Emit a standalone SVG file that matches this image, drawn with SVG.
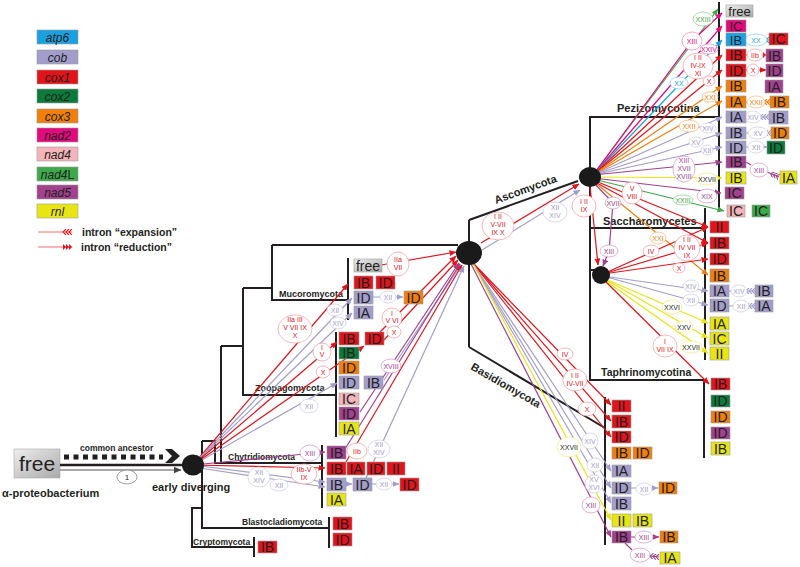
<svg xmlns="http://www.w3.org/2000/svg" width="800" height="567" viewBox="0 0 800 567">
<style>
.tl{fill:none;stroke:#231f20;stroke-width:2}
.bx{stroke:#9a9a9a;stroke-width:.6}
.bt{font-family:"Liberation Sans",Arial,sans-serif;font-size:14px;fill:#231f20;text-anchor:middle}
.sm{font-size:13px}
.lg{font-family:"Liberation Sans",Arial,sans-serif;font-size:12px;font-style:italic;fill:#231f20;text-anchor:middle}
.cl{font-family:"Liberation Sans",Arial,sans-serif;font-weight:bold;fill:#231f20}
.ct{font-family:"Liberation Sans",Arial,sans-serif;font-size:7px;text-anchor:middle}
.atp{fill:#1ba1e2}.cob{fill:#a29dcb}.c1{fill:#e2141b}.c2{fill:#0b7a3a}.c3{fill:#f07f0b}
.n2{fill:#e4097d}.n4{fill:#f4b4ba}.n4l{fill:#3ea94a}.n5{fill:#a2418e}.rnl{fill:#e8e512}.fr{fill:url(#gfree)}
.l{fill:none;stroke-width:1.2}
.lR{stroke:#e2141b}.lC{stroke:#a29dcb}.lP{stroke:#a2418e}.lO{stroke:#f07f0b}.lY{stroke:#e8e512}
.lG{stroke:#3ea94a}.lM{stroke:#e4097d}.lA{stroke:#1ba1e2}
.ci{fill:#fff;stroke-width:.7}
.kR{stroke:#f29a9a}.kC{stroke:#cbc8e4}.kP{stroke:#cf93c3}.kO{stroke:#f8b672}.kY{stroke:#efeb7a}
.kG{stroke:#86c98a}.kM{stroke:#f284bd}.kA{stroke:#7fcff2}.kK{stroke:#777}
.tR{fill:#e2141b}.tC{fill:#a29dcb}.tP{fill:#a2418e}.tO{fill:#f07f0b}.tK{fill:#231f20}
.tG{fill:#3ea94a}.tM{fill:#e4097d}.tA{fill:#1ba1e2}
</style>
<defs>
<linearGradient id="gfree" x1="0" y1="0" x2="1" y2="1"><stop offset="0" stop-color="#eeeeee"/><stop offset="1" stop-color="#a9a9a9"/></linearGradient>
<marker id="aR" markerWidth="7" markerHeight="6" refX="6.5" refY="3" orient="auto" markerUnits="userSpaceOnUse"><path d="M0,0L7,3L0,6z" fill="#e2141b"/></marker>
<marker id="aC" markerWidth="7" markerHeight="6" refX="6.5" refY="3" orient="auto" markerUnits="userSpaceOnUse"><path d="M0,0L7,3L0,6z" fill="#a29dcb"/></marker>
<marker id="aP" markerWidth="7" markerHeight="6" refX="6.5" refY="3" orient="auto" markerUnits="userSpaceOnUse"><path d="M0,0L7,3L0,6z" fill="#a2418e"/></marker>
<marker id="aO" markerWidth="7" markerHeight="6" refX="6.5" refY="3" orient="auto" markerUnits="userSpaceOnUse"><path d="M0,0L7,3L0,6z" fill="#f07f0b"/></marker>
<marker id="aY" markerWidth="7" markerHeight="6" refX="6.5" refY="3" orient="auto" markerUnits="userSpaceOnUse"><path d="M0,0L7,3L0,6z" fill="#e8e512"/></marker>
<marker id="aG" markerWidth="7" markerHeight="6" refX="6.5" refY="3" orient="auto" markerUnits="userSpaceOnUse"><path d="M0,0L7,3L0,6z" fill="#3ea94a"/></marker>
<marker id="aM" markerWidth="7" markerHeight="6" refX="6.5" refY="3" orient="auto" markerUnits="userSpaceOnUse"><path d="M0,0L7,3L0,6z" fill="#e4097d"/></marker>
<marker id="aA" markerWidth="7" markerHeight="6" refX="6.5" refY="3" orient="auto" markerUnits="userSpaceOnUse"><path d="M0,0L7,3L0,6z" fill="#1ba1e2"/></marker>
<marker id="aK" markerWidth="8" markerHeight="7" refX="7.5" refY="3.5" orient="auto" markerUnits="userSpaceOnUse"><path d="M0,0L8,3.5L0,7z" fill="#444"/></marker>
<marker id="eR" markerWidth="10" markerHeight="6" refX="10" refY="3" orient="auto" markerUnits="userSpaceOnUse"><path d="M4,0L1,3L4,6M7,0L4,3L7,6M10,0L7,3L10,6" fill="none" stroke="#e2141b" stroke-width="1.1"/></marker>
<marker id="eA" markerWidth="10" markerHeight="6" refX="10" refY="3" orient="auto" markerUnits="userSpaceOnUse"><path d="M4,0L1,3L4,6M7,0L4,3L7,6M10,0L7,3L10,6" fill="none" stroke="#1ba1e2" stroke-width="1.1"/></marker>
<marker id="eO" markerWidth="10" markerHeight="6" refX="10" refY="3" orient="auto" markerUnits="userSpaceOnUse"><path d="M4,0L1,3L4,6M7,0L4,3L7,6M10,0L7,3L10,6" fill="none" stroke="#f07f0b" stroke-width="1.1"/></marker>
<marker id="eC" markerWidth="10" markerHeight="6" refX="10" refY="3" orient="auto" markerUnits="userSpaceOnUse"><path d="M4,0L1,3L4,6M7,0L4,3L7,6M10,0L7,3L10,6" fill="none" stroke="#a29dcb" stroke-width="1.1"/></marker>
<marker id="eP" markerWidth="10" markerHeight="6" refX="10" refY="3" orient="auto" markerUnits="userSpaceOnUse"><path d="M4,0L1,3L4,6M7,0L4,3L7,6M10,0L7,3L10,6" fill="none" stroke="#a2418e" stroke-width="1.1"/></marker>
<marker id="dR" markerWidth="9" markerHeight="6" refX="9" refY="3" orient="auto" markerUnits="userSpaceOnUse"><path d="M0,0L3,3L0,6zM3,0L6,3L3,6zM6,0L9,3L6,6z" fill="#e2141b"/></marker>
</defs>
<rect width="800" height="567" fill="#fff"/>

<g id="legend">
<rect class="bx atp" x="37" y="30" width="41" height="14"/><text class="lg" x="57.5" y="41.5">atp6</text>
<rect class="bx cob" x="37" y="50" width="41" height="14"/><text class="lg" x="57.5" y="61.5">cob</text>
<rect class="bx c1" x="37" y="70" width="41" height="14"/><text class="lg" x="57.5" y="81.5">cox1</text>
<rect class="bx c2" x="37" y="89" width="41" height="14"/><text class="lg" x="57.5" y="100.5">cox2</text>
<rect class="bx c3" x="37" y="109" width="41" height="14"/><text class="lg" x="57.5" y="120.5">cox3</text>
<rect class="bx n2" x="37" y="128" width="41" height="14"/><text class="lg" x="57.5" y="139.5">nad2</text>
<rect class="bx n4" x="37" y="147" width="41" height="14"/><text class="lg" x="57.5" y="158.5">nad4</text>
<rect class="bx n4l" x="37" y="167" width="41" height="14"/><text class="lg" x="57.5" y="178.5">nad4<tspan font-style="normal">L</tspan></text>
<rect class="bx n5" x="37" y="185" width="41" height="14"/><text class="lg" x="57.5" y="196.5">nad5</text>
<rect class="bx rnl" x="37" y="204" width="41" height="14"/><text class="lg" x="57.5" y="215.5">rnl</text>
<path d="M38,232H72" stroke="#f26f6f" stroke-width="1" marker-end="url(#eR)"/>
<path d="M38,247H72" stroke="#f26f6f" stroke-width="1" marker-end="url(#dR)"/>
<text class="cl" x="82" y="236" font-size="10.5">intron “expansion”</text>
<text class="cl" x="81" y="251" font-size="10.5">intron “reduction”</text>
</g>

<g id="ancestor">
<rect x="14" y="449" width="46" height="29" fill="url(#gfree)" stroke="#aaa" stroke-width=".6"/>
<text x="37" y="471" font-family="Liberation Sans,Arial,sans-serif" font-size="21" fill="#231f20" text-anchor="middle">free</text>
<text class="cl" x="2" y="497" font-size="11">α-proteobacterium</text>
<path d="M64,457H163" stroke="#231f20" stroke-width="5" stroke-dasharray="5,4.5"/>
<path d="M165,449H172L180,456L172,463H165L172,456z" fill="#231f20"/>
<text class="cl" x="80" y="451" font-size="8.5">common ancestor</text>
<path d="M60,465H184" stroke="#231f20" stroke-width="2.5"/>
<path d="M60,470H181" stroke="#555" stroke-width="1.2" marker-end="url(#aK)"/>
<ellipse cx="127" cy="477" rx="10" ry="7" fill="#fff" stroke="#777" stroke-width=".7"/>
<text x="127" y="480" font-family="Liberation Sans,Arial,sans-serif" font-size="8" text-anchor="middle" fill="#231f20">1</text>
</g>

<g id="tree">
<path class="tl" d="M221,346H243M243,288V395H336M243,288H272M272,245V300H348M272,245H458M202,441H215V463H322M221,346V463M202,441V528H329M202,508H192V547H254"/>
<path class="tl" d="M469,220V347M469,220L578,181M469,347L605,428M589,117H719M590,117V380H704M590,228H705M590,270H600"/>
<path class="tl" d="M348,258V320M336,332V437M322,445V508M329,517V548M254,537V557M719,2V212M705,208V360M704,379V458M605,397V545"/>
<text class="cl" x="279" y="297" font-size="9">Mucoromycota</text>
<text class="cl" x="255" y="391" font-size="9">Zoopagomycota</text>
<text class="cl" x="228" y="460" font-size="8.5">Chytridiomycota</text>
<text class="cl" x="242" y="525" font-size="8.5">Blastocladiomycota</text>
<text class="cl" x="193" y="545" font-size="8.5">Cryptomycota</text>
<text class="cl" font-size="11" transform="translate(496,204) rotate(-20)">Ascomycota</text>
<text class="cl" font-size="11" transform="translate(470,369) rotate(30)">Basidiomycota</text>
<text class="cl" x="617" y="112" font-size="11">Pezizomycotina</text>
<text class="cl" x="603" y="225" font-size="11">Saccharomycetes</text>
<text class="cl" x="601" y="376" font-size="10.5">Taphrinomycotina</text>
<text class="cl" x="152" y="491" font-size="11">early diverging</text>
</g>

<g id="connectors">
<path class="l lR" d="M193,465L348,284" marker-end="url(#aR)"/>
<path class="l lC" d="M193,465L352,298" marker-end="url(#aC)"/>
<path class="l lC" d="M193,465L352,313" marker-end="url(#aC)"/>
<path class="l lR" d="M193,465L337,342" marker-end="url(#aR)"/>
<path class="l lR" d="M193,465L364,346" marker-end="url(#aR)"/>
<path class="l lC" d="M193,465L337,383" marker-end="url(#aC)"/>
<path class="l lP" d="M193,465L325,452" marker-end="url(#aP)"/>
<path class="l lR" d="M193,465L325,468" marker-end="url(#aR)"/>
<path class="l lC" d="M193,465L325,482" marker-end="url(#aC)"/>
<path class="l lC" d="M193,467L325,487" marker-end="url(#aC)"/>
<path class="l lR" d="M381,265L456,252" marker-end="url(#aR)"/>
<path class="l lR" d="M380,332L456,256" marker-end="url(#aR)"/>
<path class="l lR" d="M384,340L458,260" marker-end="url(#aR)"/>
<path class="l lP" d="M360,412L459,263" marker-end="url(#aP)"/>
<path class="l lC" d="M384,380L461,265" marker-end="url(#aC)"/>
<path class="l lP" d="M345,449L460,264" marker-end="url(#aP)"/>
<path class="l lR" d="M346,462L462,265" marker-end="url(#aR)"/>
<path class="l lC" d="M366,478L464,266" marker-end="url(#aC)"/>
<path class="l lC" d="M373,297H380M396,297H403" marker-end="url(#aC)"/>
<path class="l lC" d="M346,484H352" marker-end="url(#aC)"/>
<path class="l lC" d="M372,484H376M392,484H399" marker-end="url(#aC)"/>
<path class="l lR" d="M481,243L579,184" marker-end="url(#aR)"/>
<path class="l lC" d="M482,250L580,190" marker-end="url(#aC)"/>
<path class="l lR" d="M472,262L611,405" marker-end="url(#aR)"/>
<path class="l lR" d="M472,262L611,421" marker-end="url(#aR)"/>
<path class="l lR" d="M472,262L611,437" marker-end="url(#aR)"/>
<path class="l lC" d="M472,262L611,471" marker-end="url(#aC)"/>
<path class="l lC" d="M472,262L611,488" marker-end="url(#aC)"/>
<path class="l lC" d="M472,262L611,503" marker-end="url(#aC)"/>
<path class="l lY" d="M472,262L611,520" marker-end="url(#aY)"/>
<path class="l lP" d="M470,262L611,537" marker-end="url(#aP)"/>
<path class="l lC" d="M631,488H636M652,488H658" marker-end="url(#aC)"/>
<path class="l lP" d="M631,537H635M653,537H659" marker-end="url(#aP)"/>
<path class="l lP" d="M625,543L632,550M650,556L659,557" marker-end="url(#eP)"/>
<path class="l lG" d="M593,175L718,9" marker-end="url(#aG)"/>
<path class="l lM" d="M593,175L692,41L722,13" marker-end="url(#aM)"/>
<path class="l lM" d="M593,175L722,26" marker-end="url(#aM)"/>
<path class="l lA" d="M593,175L722,40" marker-end="url(#aA)"/>
<path class="l lR" d="M593,175L722,55" marker-end="url(#aR)"/>
<path class="l lR" d="M593,175L722,70" marker-end="url(#aR)"/>
<path class="l lO" d="M593,175L722,86" marker-end="url(#aO)"/>
<path class="l lO" d="M593,175L722,101" marker-end="url(#aO)"/>
<path class="l lC" d="M593,175L722,117" marker-end="url(#aC)"/>
<path class="l lC" d="M593,175L722,133" marker-end="url(#aC)"/>
<path class="l lC" d="M593,175L722,147" marker-end="url(#aC)"/>
<path class="l lP" d="M593,175L722,162" marker-end="url(#aP)"/>
<path class="l lY" d="M593,177L722,178" marker-end="url(#aY)"/>
<path class="l lP" d="M593,178L721,193" marker-end="url(#aP)"/>
<path class="l lG" d="M593,179L724,211" marker-end="url(#aG)"/>
<path class="l lR" d="M593,180L708,227" marker-end="url(#aR)"/>
<path class="l lR" d="M593,181L708,243" marker-end="url(#aR)"/>
<path class="l lO" d="M593,181L708,275" marker-end="url(#aO)"/>
<path class="l lR" d="M590,186L598,265" marker-end="url(#aR)"/>
<path class="l lP" d="M595,184L613,203L609,251L603,266" marker-end="url(#aP)"/>
<path class="l lA" d="M746,40H745M767,40H769" marker-end="url(#eA)"/>
<path class="l lR" d="M746,55H747M763,55H766" marker-end="url(#dR)"/>
<path class="l lR" d="M746,70H747M759,70H766" marker-end="url(#aR)"/>
<path class="l lO" d="M746,102H747M765,102H770" marker-end="url(#eO)"/>
<path class="l lC" d="M746,117H745M761,117H769" marker-end="url(#eC)"/>
<path class="l lC" d="M746,133H748M768,133H771" marker-end="url(#eC)"/>
<path class="l lC" d="M746,147H748M764,147H767" marker-end="url(#aC)"/>
<path class="l lP" d="M746,162L751,165M767,172L779,177" marker-end="url(#eP)"/>
<path class="l lR" d="M603,274L708,227" marker-end="url(#aR)"/>
<path class="l lR" d="M603,274L708,243" marker-end="url(#aR)"/>
<path class="l lR" d="M603,274L708,259" marker-end="url(#aR)"/>
<path class="l lC" d="M603,276L708,291" marker-end="url(#aC)"/>
<path class="l lC" d="M603,276L708,305" marker-end="url(#aC)"/>
<path class="l lY" d="M603,278L708,323" marker-end="url(#aY)"/>
<path class="l lY" d="M603,278L708,338" marker-end="url(#aY)"/>
<path class="l lY" d="M603,279L708,353" marker-end="url(#aY)"/>
<path class="l lR" d="M603,279L709,384" marker-end="url(#aR)"/>
<path class="l lC" d="M729,291H731M747,291H755" marker-end="url(#eC)"/>
<path class="l lC" d="M729,306H733M749,306H755" marker-end="url(#eC)"/>
</g>

<g id="intron-labels">
<ellipse class="ci kR" cx="398" cy="264" rx="11" ry="12"/><text class="ct tR" x="398" y="262">IIa</text><text class="ct tR" x="398" y="270">VII</text>
<ellipse class="ci kC" cx="388" cy="297" rx="8" ry="6"/><text class="ct tC" x="388" y="299.5">XII</text>
<ellipse class="ci kR" cx="295" cy="329" rx="17" ry="14"/><text class="ct tR" x="295" y="322">IIa III</text><text class="ct tR" x="295" y="330">V VII IX</text><text class="ct tR" x="295" y="338">X</text>
<ellipse class="ci kC" cx="335" cy="310" rx="8" ry="6"/><text class="ct tC" x="335" y="312.5">XII</text>
<ellipse class="ci kC" cx="338" cy="323" rx="8" ry="6"/><text class="ct tC" x="338" y="325.5">XIV</text>
<ellipse class="ci kR" cx="322" cy="352" rx="9" ry="9"/><text class="ct tR" x="322" y="350">I</text><text class="ct tR" x="322" y="357">V</text>
<ellipse class="ci kR" cx="323" cy="372" rx="7" ry="6"/><text class="ct tR" x="323" y="374.5">X</text>
<ellipse class="ci kR" cx="392" cy="318" rx="10" ry="10"/><text class="ct tR" x="392" y="316">I</text><text class="ct tR" x="392" y="323">V VI</text>
<ellipse class="ci kR" cx="394" cy="332" rx="7" ry="6"/><text class="ct tR" x="394" y="334.5">X</text>
<ellipse class="ci kP" cx="391" cy="366" rx="10" ry="7"/><text class="ct tP" x="391" y="368.5">XVIII</text>
<ellipse class="ci kC" cx="309" cy="406" rx="9" ry="7"/><text class="ct tC" x="309" y="408.5">XII</text>
<ellipse class="ci kP" cx="310" cy="453" rx="10" ry="8"/><text class="ct tP" x="310" y="455.5">XIII</text>
<ellipse class="ci kR" cx="304" cy="474" rx="13" ry="10"/><text class="ct tR" x="304" y="472">IIb-V</text><text class="ct tR" x="304" y="480">IX</text>
<ellipse class="ci kC" cx="259" cy="477" rx="11" ry="10"/><text class="ct tC" x="259" y="475">XII</text><text class="ct tC" x="259" y="483">XIV</text>
<ellipse class="ci kC" cx="279" cy="485" rx="9" ry="6"/><text class="ct tC" x="279" y="487.5">XII</text>
<ellipse class="ci kR" cx="357" cy="451" rx="10" ry="8"/><text class="ct tR" x="357" y="453.5">IIb</text>
<ellipse class="ci kC" cx="379" cy="449" rx="11" ry="9"/><text class="ct tC" x="379" y="447">XII</text><text class="ct tC" x="379" y="455">XIV</text>
<ellipse class="ci kC" cx="384" cy="484" rx="8" ry="6"/><text class="ct tC" x="384" y="486.5">XII</text>
<ellipse class="ci kR" cx="498" cy="226" rx="16" ry="14"/><text class="ct tR" x="498" y="219">I  II</text><text class="ct tR" x="498" y="227">V-VII</text><text class="ct tR" x="498" y="235">IX X</text>
<ellipse class="ci kC" cx="555" cy="212" rx="12" ry="10"/><text class="ct tC" x="555" y="210">XII</text><text class="ct tC" x="555" y="218">XIV</text>
<ellipse class="ci kR" cx="584" cy="206" rx="12" ry="11"/><text class="ct tR" x="584" y="204">I  II</text><text class="ct tR" x="584" y="212">IX</text>
<ellipse class="ci kR" cx="565" cy="354" rx="8" ry="6"/><text class="ct tR" x="565" y="356.5">IV</text>
<ellipse class="ci kR" cx="575" cy="380" rx="12" ry="11"/><text class="ct tR" x="575" y="378">I  II</text><text class="ct tR" x="575" y="386">IV-VII</text>
<ellipse class="ci kR" cx="587" cy="409" rx="9" ry="7"/><text class="ct tR" x="587" y="411.5">X</text>
<ellipse class="ci kY" cx="569" cy="447" rx="12" ry="10"/><text class="ct tK" x="569" y="449.5">XXVII</text>
<ellipse class="ci kC" cx="590" cy="441" rx="8" ry="8"/><text class="ct tC" x="590" y="443.5">XIV</text>
<ellipse class="ci kC" cx="595" cy="465" rx="8" ry="7"/><text class="ct tC" x="595" y="467.5">XII</text>
<ellipse class="ci kC" cx="594" cy="484" rx="9" ry="9"/><text class="ct tC" x="594" y="482">XV</text><text class="ct tC" x="594" y="490">XVI</text>
<ellipse class="ci kP" cx="591" cy="505" rx="9" ry="8"/><text class="ct tP" x="591" y="507.5">XIII</text>
<ellipse class="ci kC" cx="644" cy="489" rx="8" ry="6"/><text class="ct tC" x="644" y="491.5">XII</text>
<ellipse class="ci kP" cx="644" cy="537" rx="9" ry="6"/><text class="ct tP" x="644" y="539.5">XIII</text>
<ellipse class="ci kP" cx="640" cy="555" rx="10" ry="7"/><text class="ct tP" x="640" y="557.5">XIII</text>
<ellipse class="ci kG" cx="703" cy="19" rx="10" ry="7"/><text class="ct tG" x="703" y="21.5">XXIII</text>
<ellipse class="ci kM" cx="692" cy="41" rx="10" ry="9"/><text class="ct tM" x="692" y="43.5">XIII</text>
<ellipse class="ci kM" cx="709" cy="49" rx="9" ry="5"/><text class="ct tM" x="709" y="51.5">XXIV</text>
<ellipse class="ci kR" cx="698" cy="66" rx="15" ry="13"/><text class="ct tR" x="698" y="60">I  II</text><text class="ct tR" x="698" y="68">IV-IX</text><text class="ct tR" x="698" y="76">XI</text>
<ellipse class="ci kA" cx="679" cy="83" rx="9" ry="6"/><text class="ct tA" x="679" y="85.5">XX</text>
<ellipse class="ci kR" cx="709" cy="81" rx="6" ry="5"/><text class="ct tR" x="709" y="83.5">X</text>
<ellipse class="ci kO" cx="710" cy="97" rx="8" ry="5"/><text class="ct tO" x="710" y="99.5">XXI</text>
<ellipse class="ci kO" cx="689" cy="126" rx="10" ry="6"/><text class="ct tO" x="689" y="128.5">XXII</text>
<ellipse class="ci kC" cx="708" cy="128" rx="8" ry="5"/><text class="ct tC" x="708" y="130.5">XIV</text>
<ellipse class="ci kC" cx="696" cy="142" rx="7" ry="5"/><text class="ct tC" x="696" y="144.5">XV</text>
<ellipse class="ci kC" cx="707" cy="150" rx="6" ry="5"/><text class="ct tC" x="707" y="152.5">XII</text>
<ellipse class="ci kP" cx="684" cy="169" rx="11" ry="13"/><text class="ct tP" x="684" y="163">XIII</text><text class="ct tP" x="684" y="171">XVII</text><text class="ct tP" x="684" y="179">XVIII</text>
<ellipse class="ci kY" cx="707" cy="179" rx="11" ry="6"/><text class="ct tK" x="707" y="181.5">XXVII</text>
<ellipse class="ci kA" cx="756" cy="40" rx="11" ry="6"/><text class="ct tA" x="756" y="42.5">XX</text>
<ellipse class="ci kR" cx="755" cy="55" rx="8" ry="6"/><text class="ct tR" x="755" y="57.5">IIb</text>
<ellipse class="ci kR" cx="753" cy="70" rx="6" ry="6"/><text class="ct tR" x="753" y="72.5">X</text>
<ellipse class="ci kO" cx="756" cy="102" rx="9" ry="6"/><text class="ct tO" x="756" y="104.5">XXII</text>
<ellipse class="ci kC" cx="753" cy="117" rx="8" ry="6"/><text class="ct tC" x="753" y="119.5">XIV</text>
<ellipse class="ci kC" cx="758" cy="133" rx="10" ry="6"/><text class="ct tC" x="758" y="135.5">XV</text>
<ellipse class="ci kC" cx="756" cy="147" rx="8" ry="6"/><text class="ct tC" x="756" y="149.5">XII</text>
<ellipse class="ci kP" cx="759" cy="170" rx="9" ry="7"/><text class="ct tP" x="759" y="172.5">XIII</text>
<ellipse class="ci kP" cx="613" cy="203" rx="8" ry="6"/><text class="ct tP" x="613" y="205.5">XVII</text>
<ellipse class="ci kR" cx="632" cy="193" rx="10" ry="11"/><text class="ct tR" x="632" y="191">V</text><text class="ct tR" x="632" y="199">VIII</text>
<ellipse class="ci kG" cx="683" cy="200" rx="10" ry="5"/><text class="ct tG" x="683" y="202.5">XXIII</text>
<ellipse class="ci kP" cx="707" cy="196" rx="10" ry="7"/><text class="ct tP" x="707" y="198.5">XIX</text>
<ellipse class="ci kO" cx="658" cy="238" rx="8" ry="6"/><text class="ct tO" x="658" y="240.5">XXI</text>
<ellipse class="ci kR" cx="651" cy="251" rx="8" ry="6"/><text class="ct tR" x="651" y="253.5">IV</text>
<ellipse class="ci kR" cx="687" cy="248" rx="13" ry="13"/><text class="ct tR" x="687" y="242">I  II</text><text class="ct tR" x="687" y="250">IV VII</text><text class="ct tR" x="687" y="258">IX</text>
<ellipse class="ci kR" cx="679" cy="268" rx="6" ry="5"/><text class="ct tR" x="679" y="270.5">X</text>
<ellipse class="ci kP" cx="609" cy="251" rx="9" ry="6"/><text class="ct tP" x="609" y="253.5">XIII</text>
<ellipse class="ci kC" cx="691" cy="286" rx="8" ry="6"/><text class="ct tC" x="691" y="288.5">XIV</text>
<ellipse class="ci kC" cx="691" cy="300" rx="8" ry="6"/><text class="ct tC" x="691" y="302.5">XII</text>
<ellipse class="ci kY" cx="672" cy="307" rx="10" ry="7"/><text class="ct tK" x="672" y="309.5">XXVI</text>
<ellipse class="ci kY" cx="684" cy="327" rx="9" ry="6"/><text class="ct tK" x="684" y="329.5">XXV</text>
<ellipse class="ci kR" cx="665" cy="346" rx="12" ry="11"/><text class="ct tR" x="665" y="344">I</text><text class="ct tR" x="665" y="352">VII IX</text>
<ellipse class="ci kY" cx="691" cy="347" rx="11" ry="6"/><text class="ct tK" x="691" y="349.5">XXVII</text>
<ellipse class="ci kC" cx="739" cy="291" rx="8" ry="6"/><text class="ct tC" x="739" y="293.5">XIV</text>
<ellipse class="ci kC" cx="741" cy="306" rx="8" ry="6"/><text class="ct tC" x="741" y="308.5">XII</text>
</g>

<g id="nodes">
<ellipse id="node-early" cx="193" cy="465" rx="11" ry="10.5" fill="#1a1a1a"/>
<ellipse id="node-dikarya" cx="469" cy="253" rx="13" ry="12" fill="#1a1a1a"/>
<ellipse id="node-pezizo" cx="590" cy="177" rx="11" ry="10" fill="#1a1a1a"/>
<ellipse id="node-saccharo" cx="601" cy="275" rx="9" ry="9" fill="#1a1a1a"/>
</g>

<g id="mucoromycota">
<rect class="bx fr" x="354" y="259" width="28" height="13"/><text class="bt" x="368" y="270.5">free</text>
<rect class="bx c1" x="354" y="276" width="19" height="13"/><text class="bt" x="363.5" y="287.5">IB</text>
<rect class="bx c1" x="376" y="276" width="19" height="13"/><text class="bt" x="385.5" y="287.5">ID</text>
<rect class="bx cob" x="354" y="291" width="19" height="13"/><text class="bt" x="363.5" y="302.5">ID</text>
<rect class="bx c3" x="404" y="291" width="19" height="13"/><text class="bt" x="413.5" y="302.5">ID</text>
<rect class="bx cob" x="354" y="306" width="19" height="13"/><text class="bt" x="363.5" y="317.5">IA</text>
</g>
<g id="zoopagomycota">
<rect class="bx c1" x="339" y="332" width="20" height="13"/><text class="bt" x="349" y="343.5">IB</text>
<rect class="bx c1" x="365" y="332" width="19" height="13"/><text class="bt" x="374.5" y="343.5">ID</text>
<rect class="bx c2" x="339" y="347" width="20" height="12"/><text class="bt" x="349" y="358">IB</text>
<rect class="bx c3" x="339" y="361" width="20" height="13"/><text class="bt" x="349" y="372.5">ID</text>
<rect class="bx cob" x="339" y="376" width="20" height="13"/><text class="bt" x="349" y="387.5">ID</text>
<rect class="bx cob" x="364" y="376" width="19" height="13"/><text class="bt" x="373.5" y="387.5">IB</text>
<rect class="bx n4" x="339" y="393" width="20" height="12"/><text class="bt" x="349" y="404">IC</text>
<rect class="bx n5" x="339" y="407" width="20" height="13"/><text class="bt" x="349" y="418.5">ID</text>
<rect class="bx rnl" x="339" y="422" width="20" height="13"/><text class="bt" x="349" y="433.5">IA</text>
</g>
<g id="chytridiomycota">
<rect class="bx n5" x="327" y="446" width="19" height="13"/><text class="bt" x="336.5" y="457.5">IB</text>
<rect class="bx c1" x="327" y="462" width="19" height="13"/><text class="bt" x="336.5" y="473.5">IB</text>
<rect class="bx c1" x="347" y="462" width="18" height="13"/><text class="bt" x="356" y="473.5">IA</text>
<rect class="bx c1" x="367" y="462" width="18" height="13"/><text class="bt" x="376" y="473.5">ID</text>
<rect class="bx c1" x="387" y="462" width="18" height="13"/><text class="bt" x="396" y="473.5">II</text>
<rect class="bx cob" x="327" y="478" width="19" height="13"/><text class="bt" x="336.5" y="489.5">IB</text>
<rect class="bx cob" x="353" y="478" width="19" height="13"/><text class="bt" x="362.5" y="489.5">ID</text>
<rect class="bx c1" x="400" y="478" width="19" height="13"/><text class="bt" x="409.5" y="489.5">ID</text>
<rect class="bx rnl" x="327" y="493" width="19" height="13"/><text class="bt" x="336.5" y="504.5">IA</text>
</g>
<g id="blastocladiomycota">
<rect class="bx c1" x="333" y="517" width="19" height="13"/><text class="bt" x="342.5" y="528.5">IB</text>
<rect class="bx c1" x="333" y="533" width="19" height="13"/><text class="bt" x="342.5" y="544.5">ID</text>
</g>
<g id="cryptomycota">
<rect class="bx c1" x="258" y="541" width="19" height="12"/><text class="bt" x="267.5" y="552">IB</text>
</g>
<g id="pezizomycotina">
<rect class="bx fr" x="726" y="5" width="27" height="12"/><text class="bt sm" x="739.5" y="15.5">free</text>
<rect class="bx n2" x="726" y="20" width="20" height="12"/><text class="bt sm" x="736" y="30.5">IC</text>
<rect class="bx atp" x="726" y="33" width="20" height="13"/><text class="bt sm" x="736" y="44.5">IB</text>
<rect class="bx c1" x="769" y="33" width="19" height="12"/><text class="bt" x="778.5" y="44">IC</text>
<rect class="bx c1" x="726" y="49" width="20" height="12"/><text class="bt" x="736" y="60">IB</text>
<rect class="bx n5" x="766" y="49" width="17" height="13"/><text class="bt" x="774.5" y="60.5">IB</text>
<rect class="bx c1" x="726" y="64" width="20" height="13"/><text class="bt" x="736" y="75.5">ID</text>
<rect class="bx n5" x="766" y="64" width="17" height="13"/><text class="bt" x="774.5" y="75.5">ID</text>
<rect class="bx c3" x="726" y="80" width="20" height="12"/><text class="bt" x="736" y="91">IB</text>
<rect class="bx n5" x="765" y="80" width="18" height="13"/><text class="bt" x="774" y="91.5">IA</text>
<rect class="bx c3" x="726" y="96" width="20" height="12"/><text class="bt" x="736" y="107">IA</text>
<rect class="bx c3" x="770" y="96" width="19" height="12"/><text class="bt" x="779.5" y="107">IB</text>
<rect class="bx cob" x="726" y="111" width="20" height="12"/><text class="bt" x="736" y="122">IA</text>
<rect class="bx cob" x="769" y="111" width="19" height="13"/><text class="bt" x="778.5" y="122.5">IB</text>
<rect class="bx cob" x="726" y="127" width="20" height="12"/><text class="bt" x="736" y="138">IB</text>
<rect class="bx c3" x="771" y="127" width="18" height="12"/><text class="bt" x="780" y="138">ID</text>
<rect class="bx cob" x="726" y="141" width="20" height="13"/><text class="bt" x="736" y="152.5">ID</text>
<rect class="bx c2" x="767" y="141" width="18" height="13"/><text class="bt" x="776" y="152.5">ID</text>
<rect class="bx n5" x="726" y="156" width="20" height="12"/><text class="bt" x="736" y="167">IB</text>
<rect class="bx rnl" x="780" y="171" width="17" height="13"/><text class="bt" x="788.5" y="182.5">IA</text>
<rect class="bx rnl" x="726" y="172" width="20" height="12"/><text class="bt" x="736" y="183">IB</text>
<rect class="bx n5" x="725" y="187" width="19" height="12"/><text class="bt" x="734.5" y="198">IC</text>
<rect class="bx n4" x="727" y="205" width="18" height="12"/><text class="bt" x="736" y="216">IC</text>
<rect class="bx n4l" x="752" y="205" width="18" height="12"/><text class="bt" x="761" y="216">IC</text>
</g>
<g id="saccharomycetes">
<rect class="bx c1" x="710" y="221" width="19" height="12"/><text class="bt" x="719.5" y="232">II</text>
<rect class="bx c1" x="710" y="237" width="19" height="12"/><text class="bt" x="719.5" y="248">IB</text>
<rect class="bx c1" x="710" y="253" width="19" height="12"/><text class="bt" x="719.5" y="264">ID</text>
<rect class="bx c3" x="710" y="269" width="19" height="13"/><text class="bt" x="719.5" y="280.5">IB</text>
<rect class="bx cob" x="710" y="285" width="19" height="12"/><text class="bt" x="719.5" y="296">IA</text>
<rect class="bx cob" x="755" y="285" width="18" height="12"/><text class="bt" x="764" y="296">IB</text>
<rect class="bx cob" x="710" y="299" width="19" height="13"/><text class="bt" x="719.5" y="310.5">ID</text>
<rect class="bx cob" x="755" y="300" width="18" height="12"/><text class="bt" x="764" y="311">IA</text>
<rect class="bx rnl" x="710" y="317" width="19" height="13"/><text class="bt" x="719.5" y="328.5">IA</text>
<rect class="bx rnl" x="710" y="332" width="19" height="13"/><text class="bt" x="719.5" y="343.5">IC</text>
<rect class="bx rnl" x="710" y="347" width="19" height="13"/><text class="bt" x="719.5" y="358.5">II</text>
</g>
<g id="taphrinomycotina">
<rect class="bx c1" x="711" y="378" width="19" height="12"/><text class="bt" x="720.5" y="389">IB</text>
<rect class="bx c2" x="711" y="395" width="19" height="12"/><text class="bt" x="720.5" y="406">ID</text>
<rect class="bx c3" x="711" y="411" width="19" height="12"/><text class="bt" x="720.5" y="422">ID</text>
<rect class="bx n5" x="711" y="427" width="19" height="12"/><text class="bt" x="720.5" y="438">ID</text>
<rect class="bx rnl" x="711" y="442" width="19" height="13"/><text class="bt" x="720.5" y="453.5">IB</text>
</g>
<g id="basidiomycota">
<rect class="bx c1" x="612" y="400" width="19" height="12"/><text class="bt" x="621.5" y="411">II</text>
<rect class="bx c1" x="612" y="415" width="19" height="13"/><text class="bt" x="621.5" y="426.5">IB</text>
<rect class="bx c1" x="612" y="431" width="19" height="12"/><text class="bt" x="621.5" y="442">ID</text>
<rect class="bx c3" x="612" y="447" width="19" height="12"/><text class="bt" x="621.5" y="458">IB</text>
<rect class="bx c3" x="633" y="447" width="19" height="12"/><text class="bt" x="642.5" y="458">ID</text>
<rect class="bx cob" x="612" y="465" width="19" height="12"/><text class="bt" x="621.5" y="476">IA</text>
<rect class="bx cob" x="612" y="482" width="19" height="12"/><text class="bt" x="621.5" y="493">ID</text>
<rect class="bx c3" x="659" y="482" width="18" height="12"/><text class="bt" x="668" y="493">ID</text>
<rect class="bx cob" x="612" y="497" width="19" height="13"/><text class="bt" x="621.5" y="508.5">IB</text>
<rect class="bx rnl" x="612" y="514" width="19" height="13"/><text class="bt" x="621.5" y="525.5">II</text>
<rect class="bx rnl" x="633" y="514" width="19" height="13"/><text class="bt" x="642.5" y="525.5">IB</text>
<rect class="bx n5" x="612" y="531" width="19" height="12"/><text class="bt" x="621.5" y="542">IB</text>
<rect class="bx c3" x="660" y="531" width="18" height="12"/><text class="bt" x="669" y="542">IB</text>
<rect class="bx rnl" x="660" y="552" width="20" height="12"/><text class="bt" x="670" y="563">IA</text>
</g>
</svg>
